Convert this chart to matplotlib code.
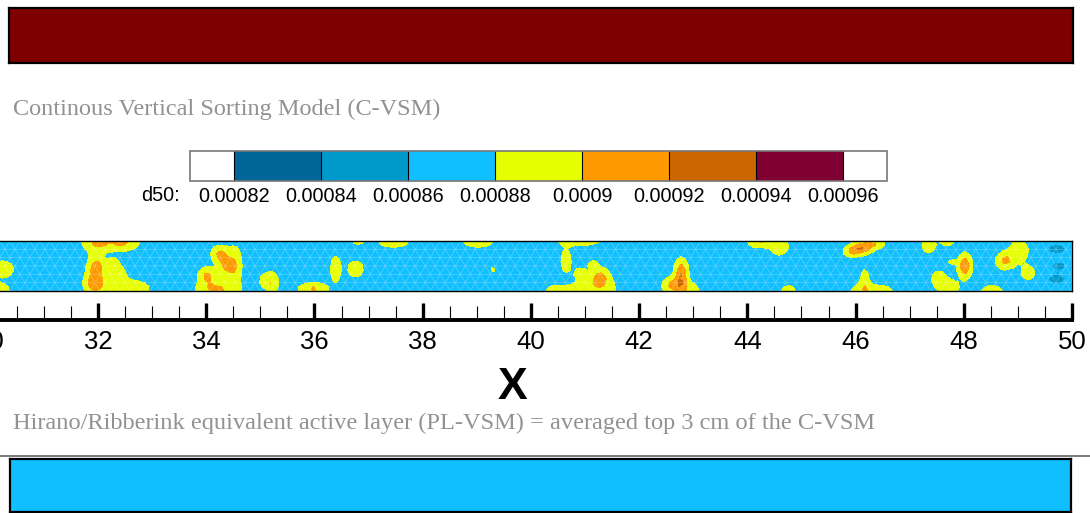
import numpy as np
import matplotlib
matplotlib.use('Agg')
import matplotlib.pyplot as plt
import matplotlib.tri as mtri
from matplotlib.colors import ListedColormap, BoundaryNorm
from matplotlib.ticker import MultipleLocator
from matplotlib.lines import Line2D

plt.rcParams['font.family'] = ['Liberation Sans', 'DejaVu Sans']

# ---------------- data ----------------
levels = [0.00082, 0.00084, 0.00086, 0.00088, 0.0009, 0.00092, 0.00094, 0.00096]
level_colors = ['#006699', '#0099cc', '#10bfff', '#e6ff00', '#ff9900', '#cc6600', '#800033']
base_d50 = 0.00087

# patches of coarser / finer d50 in the C-VSM surface layer (x in m, y across strip 0..1)
blob_x = [30.24, 30.10, 31.98, 32.45, 31.97, 31.94, 32.50, 32.28, 32.37,
          34.26, 34.39, 34.54, 34.02, 34.20, 35.13, 35.24,
          35.98, 36.39, 36.76, 36.80, 37.46, 39.02, 39.28,
          40.90, 40.65, 40.91, 41.15, 41.28, 41.10, 40.43,
          42.78, 42.62, 42.90, 44.22, 44.59, 44.76,
          45.93, 46.11, 46.35, 47.35, 47.70, 47.78, 48.02, 47.54, 47.75,
          46.17, 46.30, 48.76, 49.02, 49.19, 48.52,
          49.72, 49.75, 49.72]
blob_y = [0.44, 0.02, 0.98, 0.98, 0.48, 0.16, 0.05, 0.56, 0.36,
          0.74, 0.50, 0.50, 0.30, 0.03, 0.20, 0.14,
          0.04, 0.44, 0.44, 1.00, 0.98, 0.98, 0.44,
          1.00, 0.60, 0.36, 0.52, 0.26, 0.03, 0.00,
          0.34, 0.12, 0.03, 0.98, 0.90, 0.02,
          0.78, 0.86, 0.95, 0.90, 0.98, 0.58, 0.50, 0.24, 0.08,
          0.16, 0.02, 0.60, 0.80, 0.36, 0.02,
          0.84, 0.50, 0.24]
blob_rx = [0.20, 0.26, 0.28, 0.32, 0.18, 0.20, 0.45, 0.09, 0.12,
           0.17, 0.18, 0.10, 0.17, 0.39, 0.14, 0.07,
           0.28, 0.09, 0.14, 0.10, 0.28, 0.28, 0.05,
           0.39, 0.09, 0.09, 0.08, 0.20, 0.45, 0.13,
           0.14, 0.20, 0.20, 0.23, 0.17, 0.13,
           0.16, 0.23, 0.20, 0.12, 0.13, 0.05, 0.14, 0.13, 0.16,
           0.08, 0.39, 0.17, 0.17, 0.12, 0.20,
           0.16, 0.13, 0.16]
blob_ry = [0.16, 0.13, 0.21, 0.18, 0.26, 0.23, 0.18, 0.10, 0.13,
           0.18, 0.21, 0.40, 0.18, 0.18, 0.16, 0.16,
           0.13, 0.26, 0.16, 0.07, 0.10, 0.10, 0.05,
           0.09, 0.23, 0.10, 0.08, 0.21, 0.16, 0.08,
           0.34, 0.16, 0.13, 0.10, 0.18, 0.08,
           0.10, 0.13, 0.10, 0.13, 0.07, 0.07, 0.28, 0.16, 0.13,
           0.28, 0.10, 0.18, 0.21, 0.13, 0.08,
           0.09, 0.08, 0.09]
blob_peak = [0.00089, 0.00089, 0.000905, 0.000905, 0.00091, 0.00091, 0.00089, 0.00089, 0.00089,
             0.000905, 0.000905, 0.00089, 0.000905, 0.000905, 0.00089, 0.00089,
             0.000905, 0.00089, 0.00089, 0.00089, 0.00089, 0.00089, 0.00089,
             0.00089, 0.00089, 0.00089, 0.00089, 0.00091, 0.00089, 0.00089,
             0.00092, 0.000905, 0.00089, 0.000905, 0.00089, 0.00089,
             0.0009, 0.00092, 0.0009, 0.00089, 0.00089, 0.00089, 0.00092, 0.00089, 0.00089,
             0.00089, 0.00089, 0.000905, 0.00089, 0.00089, 0.00089,
             0.00085, 0.00085, 0.00085]

x_major = [30, 32, 34, 36, 38, 40, 42, 44, 46, 48, 50]
title_top = 'Continous Vertical Sorting Model (C-VSM)'
title_bottom = 'Hirano/Ribberink equivalent active layer (PL-VSM) = averaged top 3 cm of the C-VSM'

# ---------------- layout helpers ----------------
W, H = 1090, 513
fig = plt.figure(figsize=(W / 100, H / 100), dpi=100)


def px_box(x0, y0, x1, y1):
    return [x0 / W, 1 - y1 / H, (x1 - x0) / W, (y1 - y0) / H]


def plain(ax, lw=1.4, color='black'):
    ax.set_xticks([])
    ax.set_yticks([])
    for s in ax.spines.values():
        s.set_linewidth(lw)
        s.set_edgecolor(color)


# top uniform bar
ax_top = fig.add_axes(px_box(9, 8, 1073, 63))
ax_top.set_facecolor('#7f0000')
plain(ax_top, 1.6)

# texts
fig.text(13 / W, 1 - 115 / H, title_top, family='Liberation Serif', fontsize=17.5,
         color='#929292', va='baseline', ha='left')
fig.text(13 / W, 1 - 429 / H, title_bottom, family='Liberation Serif', fontsize=17.6,
         color='#929292', va='baseline', ha='left')

# mesh
def lattice(dx, nrows):
    xs_all, ys_all = [], []
    for i, yy in enumerate(np.linspace(0, 1, nrows + 1)):
        if i % 2 == 0:
            xs = np.arange(30, 50 + dx / 2, dx)
        else:
            xs = np.concatenate([[30], np.arange(30 + dx / 2, 50, dx), [50]])
        xs_all.append(xs)
        ys_all.append(np.full(len(xs), yy))
    return np.concatenate(xs_all), np.concatenate(ys_all)

xf, yf = lattice(0.0926, 12)
tri_f = mtri.Triangulation(xf, yf)
zf = np.full(len(xf), base_d50)
for bx, by, rx, ry, pk in zip(blob_x, blob_y, blob_rx, blob_ry, blob_peak):
    amp = pk - base_d50
    k = np.log(abs(amp) / 1e-5)
    d2 = ((xf - bx) / rx) ** 2 + ((yf - by) / ry) ** 2
    zf += amp * np.exp(-k * d2)

cmap = ListedColormap(level_colors).with_extremes(under='white', over='white')
norm = BoundaryNorm(levels, cmap.N)

ax_strip = fig.add_axes(px_box(-10.2, 241, 1072, 291))
cs = ax_strip.tricontourf(tri_f, zf, levels=levels, cmap=cmap, norm=norm, extend='both')
xc, yc = lattice(0.185, 6)
ax_strip.triplot(mtri.Triangulation(xc, yc), color='white', alpha=0.3, lw=0.5)
ax_strip.set_xlim(30, 50)
ax_strip.set_ylim(0, 1)
plain(ax_strip, 1.0)

# x axis
ax_x = fig.add_axes(px_box(-10.2, 291, 1072, 319.5))
ax_x.patch.set_visible(False)
for s in ['left', 'right', 'top']:
    ax_x.spines[s].set_visible(False)
ax_x.spines['bottom'].set_linewidth(2.8)
ax_x.spines['bottom'].set_capstyle('projecting')
ax_x.set_xlim(30, 50)
ax_x.set_yticks([])
ax_x.set_xticks(x_major)
ax_x.set_xticklabels([str(v) for v in x_major])
ax_x.xaxis.set_minor_locator(MultipleLocator(0.5))
ax_x.tick_params(axis='x', which='major', direction='in', length=12.5, width=2.4,
                 labelsize=18.5, pad=7.5)
ax_x.tick_params(axis='x', which='minor', direction='in', length=10, width=0.8)
ax_x.set_xlabel('X', fontsize=32, fontweight='bold')
ax_x.xaxis.set_label_coords((512 + 10.2) / (1072 + 10.2), -1.65)

# colorbar
cax = fig.add_axes(px_box(190, 151, 887, 181))
cb = fig.colorbar(cs, cax=cax, orientation='horizontal', extendrect=True,
                  extendfrac=0.5 / 7, drawedges=True, ticks=levels)
cb.ax.set_xticklabels([f'{v:g}' for v in levels])
cb.ax.tick_params(length=0, pad=4, labelsize=14.3)
cb.outline.set_edgecolor('#777777')
cb.outline.set_linewidth(1.2)
cb.dividers.set_color('black')
cb.dividers.set_linewidth(0.8)
fig.text(180 / W, 1 - 201 / H, 'd50:', fontsize=14.3, ha='right', va='baseline')

# separator line
fig.add_artist(Line2D([0, 1], [1 - 455.5 / H] * 2, transform=fig.transFigure,
                      color='#555555', lw=1.1))

# bottom uniform bar
ax_bot = fig.add_axes(px_box(10, 459, 1071, 512))
ax_bot.set_facecolor('#10bfff')
plain(ax_bot, 1.6)

fig.savefig('out.png', dpi=100)
